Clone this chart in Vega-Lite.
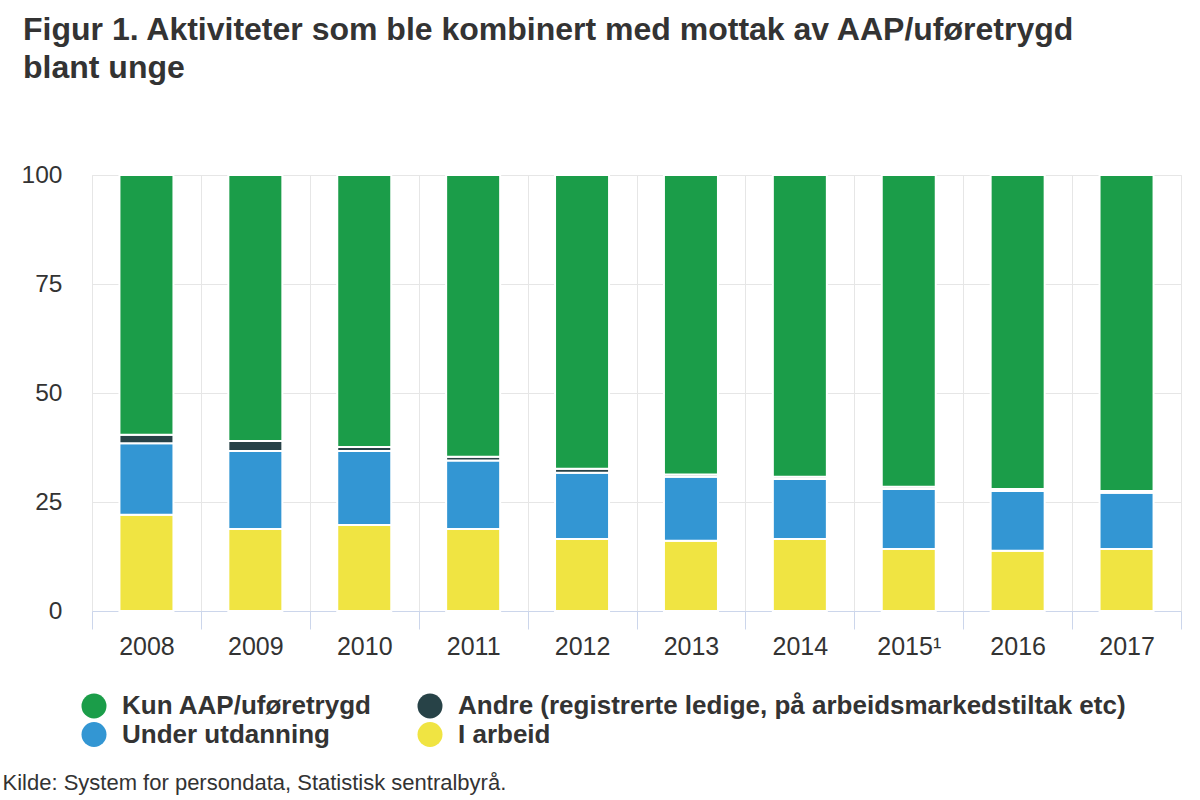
{
  "$schema": "https://vega.github.io/schema/vega-lite/v6.json",
  "autosize": "none",
  "width": 1089,
  "height": 436,
  "padding": {"left": 92, "top": 175, "right": 19, "bottom": 189},
  "background": "white",
  "config": {
    "font": "Liberation Sans",
    "view": {"stroke": "#e6e6e6", "strokeWidth": 1}
  },
  "title": {
    "text": ["Figur 1. Aktiviteter som ble kombinert med mottak av AAP/uføretrygd", "blant unge"],
    "anchor": "start",
    "frame": "group",
    "fontSize": 32,
    "fontWeight": "bold",
    "color": "#333333",
    "lineHeight": 38,
    "dx": -69,
    "offset": 77
  },
  "data": {
    "values": [
      {"aar": "2008", "kategori": "I arbeid", "andel": 22.1},
      {"aar": "2008", "kategori": "Under utdanning", "andel": 16.4},
      {"aar": "2008", "kategori": "Andre (registrerte ledige, på arbeidsmarkedstiltak etc)", "andel": 1.9},
      {"aar": "2008", "kategori": "Kun AAP/uføretrygd", "andel": 59.6},
      {"aar": "2009", "kategori": "I arbeid", "andel": 18.8},
      {"aar": "2009", "kategori": "Under utdanning", "andel": 17.9},
      {"aar": "2009", "kategori": "Andre (registrerte ledige, på arbeidsmarkedstiltak etc)", "andel": 2.3},
      {"aar": "2009", "kategori": "Kun AAP/uføretrygd", "andel": 61.0},
      {"aar": "2010", "kategori": "I arbeid", "andel": 19.7},
      {"aar": "2010", "kategori": "Under utdanning", "andel": 17.0},
      {"aar": "2010", "kategori": "Andre (registrerte ledige, på arbeidsmarkedstiltak etc)", "andel": 0.9},
      {"aar": "2010", "kategori": "Kun AAP/uføretrygd", "andel": 62.4},
      {"aar": "2011", "kategori": "I arbeid", "andel": 18.8},
      {"aar": "2011", "kategori": "Under utdanning", "andel": 15.7},
      {"aar": "2011", "kategori": "Andre (registrerte ledige, på arbeidsmarkedstiltak etc)", "andel": 0.9},
      {"aar": "2011", "kategori": "Kun AAP/uføretrygd", "andel": 64.6},
      {"aar": "2012", "kategori": "I arbeid", "andel": 16.5},
      {"aar": "2012", "kategori": "Under utdanning", "andel": 15.2},
      {"aar": "2012", "kategori": "Andre (registrerte ledige, på arbeidsmarkedstiltak etc)", "andel": 0.9},
      {"aar": "2012", "kategori": "Kun AAP/uføretrygd", "andel": 67.4},
      {"aar": "2013", "kategori": "I arbeid", "andel": 16.1},
      {"aar": "2013", "kategori": "Under utdanning", "andel": 14.7},
      {"aar": "2013", "kategori": "Andre (registrerte ledige, på arbeidsmarkedstiltak etc)", "andel": 0.5},
      {"aar": "2013", "kategori": "Kun AAP/uføretrygd", "andel": 68.7},
      {"aar": "2014", "kategori": "I arbeid", "andel": 16.5},
      {"aar": "2014", "kategori": "Under utdanning", "andel": 13.8},
      {"aar": "2014", "kategori": "Andre (registrerte ledige, på arbeidsmarkedstiltak etc)", "andel": 0.5},
      {"aar": "2014", "kategori": "Kun AAP/uføretrygd", "andel": 69.2},
      {"aar": "2015¹", "kategori": "I arbeid", "andel": 14.2},
      {"aar": "2015¹", "kategori": "Under utdanning", "andel": 13.8},
      {"aar": "2015¹", "kategori": "Andre (registrerte ledige, på arbeidsmarkedstiltak etc)", "andel": 0.5},
      {"aar": "2015¹", "kategori": "Kun AAP/uføretrygd", "andel": 71.5},
      {"aar": "2016", "kategori": "I arbeid", "andel": 13.8},
      {"aar": "2016", "kategori": "Under utdanning", "andel": 13.7},
      {"aar": "2016", "kategori": "Andre (registrerte ledige, på arbeidsmarkedstiltak etc)", "andel": 0.5},
      {"aar": "2016", "kategori": "Kun AAP/uføretrygd", "andel": 72.0},
      {"aar": "2017", "kategori": "I arbeid", "andel": 14.2},
      {"aar": "2017", "kategori": "Under utdanning", "andel": 12.9},
      {"aar": "2017", "kategori": "Andre (registrerte ledige, på arbeidsmarkedstiltak etc)", "andel": 0.4},
      {"aar": "2017", "kategori": "Kun AAP/uføretrygd", "andel": 72.5}
    ]
  },
  "transform": [
    {"calculate": "indexof(['I arbeid', 'Under utdanning', 'Andre (registrerte ledige, på arbeidsmarkedstiltak etc)', 'Kun AAP/uføretrygd'], datum.kategori)", "as": "stablerekke"}
  ],
  "mark": {
    "type": "bar",
    "width": {"band": 0.496},
    "stroke": "white",
    "strokeWidth": 2
  },
  "encoding": {
    "x": {
      "field": "aar",
      "type": "nominal",
      "sort": null,
      "scale": {"paddingInner": 0, "paddingOuter": 0},
      "axis": {
        "title": "Kilde: System for persondata, Statistisk sentralbyrå.",
        "titleFontSize": 22,
        "titleFontWeight": "normal",
        "titleColor": "#333333",
        "titleAnchor": "start",
        "titleAlign": "left",
        "titleBaseline": "alphabetic",
        "titleX": -90,
        "titleY": 178,
        "labelAngle": 0,
        "labelFontSize": 25,
        "labelColor": "#333333",
        "labelPadding": 5,
        "tickBand": "extent",
        "tickSize": 18,
        "tickColor": "#ccd6eb",
        "domainColor": "#ccd6eb",
        "grid": true,
        "gridColor": "#e6e6e6"
      }
    },
    "y": {
      "field": "andel",
      "type": "quantitative",
      "stack": "zero",
      "scale": {"domain": [0, 100], "nice": false},
      "axis": {
        "title": null,
        "values": [0, 25, 50, 75, 100],
        "domain": false,
        "ticks": false,
        "labelFontSize": 24.5,
        "labelColor": "#333333",
        "labelPadding": 30,
        "gridColor": "#e6e6e6"
      }
    },
    "order": {"field": "stablerekke", "type": "quantitative", "sort": "ascending"},
    "color": {
      "field": "kategori",
      "type": "nominal",
      "scale": {
        "domain": ["Kun AAP/uføretrygd", "Andre (registrerte ledige, på arbeidsmarkedstiltak etc)", "Under utdanning", "I arbeid"],
        "range": ["#1b9d49", "#274247", "#3396d3", "#f0e442"]
      },
      "legend": {
        "title": null,
        "orient": "none",
        "legendX": -11,
        "legendY": 518,
        "direction": "horizontal",
        "columns": 2,
        "columnPadding": 45,
        "rowPadding": 2.5,
        "padding": 0,
        "symbolType": "circle",
        "symbolSize": 625,
        "symbolStrokeWidth": 0,
        "labelFontSize": 26,
        "labelFontWeight": "bold",
        "labelColor": "#333333",
        "labelOffset": 15,
        "labelLimit": 900
      }
    }
  }
}
